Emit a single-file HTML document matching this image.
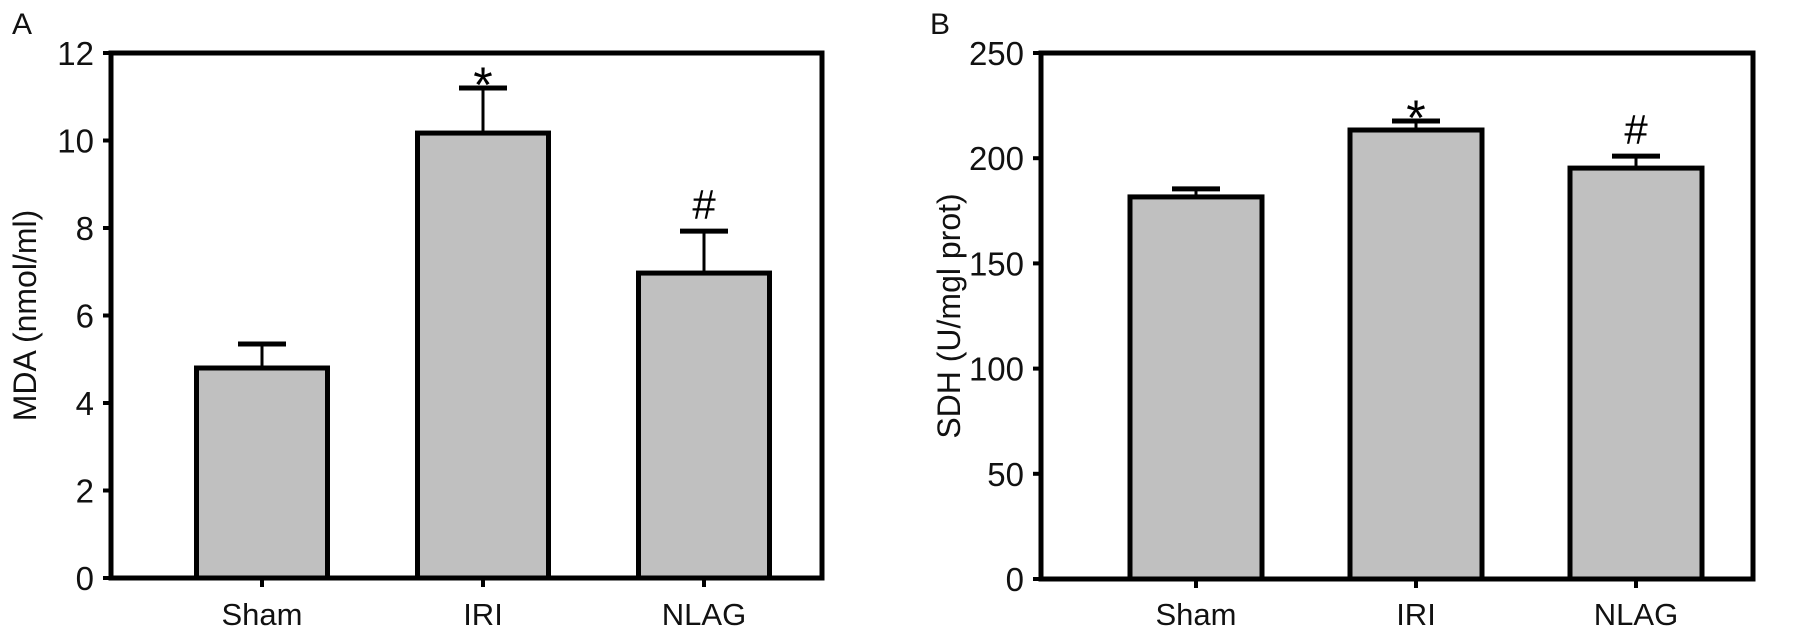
<!DOCTYPE html>
<html><head><meta charset="utf-8"><style>
html,body{margin:0;padding:0;background:#fff;}
svg{display:block;font-family:"Liberation Sans",Arial,sans-serif;}
</style></head><body>
<svg id="fig" width="1798" height="637" viewBox="0 0 1798 637"></svg>
<script>
const categories = ["Sham","IRI","NLAG"];
const mdaValues = [4.8, 10.17, 6.97];
const mdaErrors = [0.55, 1.03, 0.96];
const mdaMarks = ["", "*", "#"];
const mdaTicks = [0,2,4,6,8,10,12];
const sdhValues = [181.6, 213.4, 195.3];
const sdhErrors = [3.8, 4.3, 5.7];
const sdhMarks = ["", "*", "#"];
const sdhTicks = [0,50,100,150,200,250];

const NS="http://www.w3.org/2000/svg";
const svg=document.getElementById('fig');
function mk(tag,attrs,parent){const e=document.createElementNS(NS,tag);for(const k in attrs)e.setAttribute(k,attrs[k]);(parent||svg).appendChild(e);return e;}

function panel(cfg){
  const g=mk('g',{});
  
  
  const {x0,x1,y0,y1,max}=cfg;
  const yS=v=>y0-(v/max)*(y0-y1);
  const xC=i=>cfg.c0+cfg.step*i;
  const L=mk('text',{x:cfg.letterX,y:34,'font-size':30,fill:'#111'},g);L.textContent=cfg.letter;
  
  
  categories.forEach((c,i)=>{
    const v=cfg.values[i], e=cfg.errors[i], cx=xC(i), bw=cfg.bw;
    const st=mk('line',{x1:cx,x2:cx,y1:yS(v),y2:yS(v+e),stroke:'#000','stroke-width':3},g);
    
    
    const cap=mk('line',{x1:cx-24,x2:cx+24,y1:yS(v+e),y2:yS(v+e),stroke:'#000','stroke-width':5},g);
    
    
    const r=mk('rect',{x:cx-bw/2,y:yS(v),width:bw,height:y0-yS(v),fill:'#c0c0c0',stroke:'#000','stroke-width':5},g);
    
    
    if(cfg.marks[i]){
      const m=mk('text',{x:cx,y:yS(v+e)-(cfg.marks[i]=='*'?-14:12),'text-anchor':'middle','font-size':cfg.marks[i]=='*'?50:42,fill:'#000'},g);
      m.textContent=cfg.marks[i];
      
      
    }
    const tk=mk('line',{x1:cx,x2:cx,y1:y0,y2:y0+9,stroke:'#000','stroke-width':4},g);
    
    
    const tl=mk('text',{x:cx,y:625,'text-anchor':'middle','font-size':31,fill:'#111'},g);
    tl.textContent=c;
    
    
  });
  const fr=mk('path',{d:`M${x0} ${y1} H${x1} V${y0} H${x0} Z`,fill:'none',stroke:'#000','stroke-width':5},g);
  
  
  cfg.ticks.forEach(t=>{
    const l=mk('line',{x1:x0-8,x2:x0,y1:yS(t),y2:yS(t),stroke:'#000','stroke-width':4},g);
    
    
    const tx=mk('text',{x:x0-17,y:yS(t)+12,'text-anchor':'end','font-size':33,fill:'#111'},g);
    tx.textContent=t;
    
    
  });
  const yt=mk('text',{x:0,y:0,'text-anchor':'middle','font-size':32,fill:'#111',transform:`translate(${cfg.titleX},${(y0+y1)/2}) rotate(-90)`},g);
  yt.textContent=cfg.title;
  
  
}
panel({name:'panel-a-mda',letter:'A',letterX:12,x0:111,x1:822,y0:578,y1:53,max:12,values:mdaValues,errors:mdaErrors,marks:mdaMarks,ticks:mdaTicks,title:'MDA (nmol/ml)',titleX:36,bw:131,c0:262,step:221});
panel({name:'panel-b-sdh',letter:'B',letterX:930,x0:1041,x1:1753,y0:579,y1:53,max:250,values:sdhValues,errors:sdhErrors,marks:sdhMarks,ticks:sdhTicks,title:'SDH (U/mgl prot)',titleX:960,bw:132,c0:1196,step:220});
</script>
</body></html>
